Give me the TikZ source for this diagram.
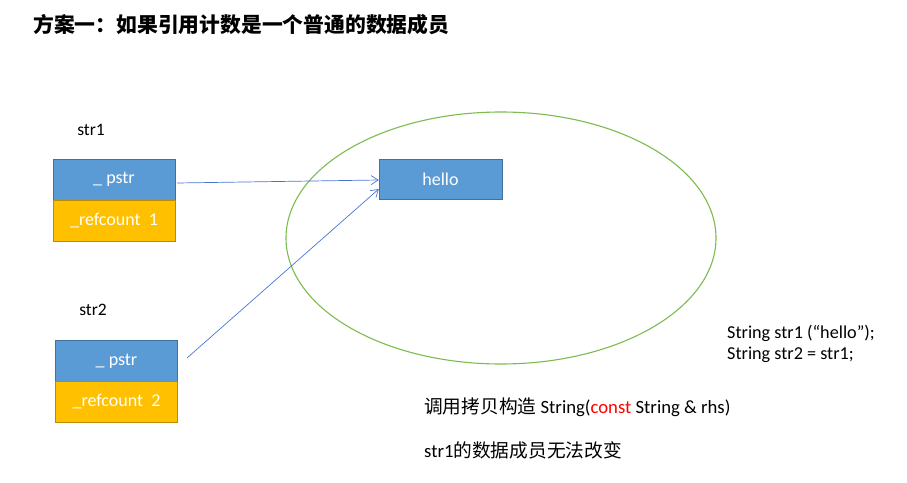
\documentclass[tikz,border=0pt]{standalone}
\usepackage{fontspec}
\setmainfont{Carlito}
\newfontfamily\cjk{Noto Sans CJK SC}
\usetikzlibrary{arrows.meta,shapes.geometric}
\definecolor{boxblue}{HTML}{5B9BD5}
\definecolor{boxblueline}{HTML}{41719C}
\definecolor{boxyellow}{HTML}{FFC000}
\definecolor{boxyellowline}{HTML}{BC8C00}
\definecolor{arrowblue}{HTML}{4A74D4}
\definecolor{ellgreen}{HTML}{7CBB4E}
\tikzset{
  pbox/.style={draw=boxblueline, fill=boxblue, minimum width=122pt, minimum height=41pt, inner sep=0pt, text=white, font=\fontsize{18}{20}\selectfont},
  rbox/.style={draw=boxyellowline, fill=boxyellow, minimum width=122pt, minimum height=41pt, inner sep=0pt, text=white, font=\fontsize{18}{20}\selectfont},
  lbl/.style={inner sep=0pt, font=\fontsize{17.5}{20}\selectfont},
  ptr/.style={draw=arrowblue, line width=0.7pt, -{Straight Barb[length=7pt,width=9pt]}},
}
\begin{document}
\begin{tikzpicture}[x=1pt,y=-1pt]
\useasboundingbox (0,0) rectangle (907,482);
\node[anchor=west, inner sep=0pt, font=\cjk\bfseries\fontsize{20.8}{24}\selectfont] (title) at (33,25) {方案一：如果引用计数是一个普通的数据成员};
\node[lbl] (l1) at (91,130) {str1};
\node[pbox] (p1) at (114,179.5) {\_ pstr};
\node[rbox] (r1) at (114,220.5) {\_refcount\ \ 1};
\node[lbl] (l2) at (93,310) {str2};
\node[pbox] (p2) at (116.5,361) {\_ pstr};
\node[rbox] (r2) at (116.5,402) {\_refcount\ \ 2};
\node[draw=ellgreen, line width=1.1pt, ellipse, minimum width=430pt, minimum height=252pt, inner sep=0pt] (ell) at (501,238) {};
\node[pbox, draw=boxblueline, minimum width=123pt, minimum height=40pt] (hello) at (440.5,179) {hello};
\coordinate (s1) at (177,183);
\coordinate (s2) at (187,358);
\draw[ptr] (s1) -- ([yshift=-1pt]hello.west);
\draw[ptr] (s2) -- ([yshift=-10pt]hello.west);
\node[anchor=west, inner sep=0pt, font=\fontsize{18.2}{21}\selectfont, align=left] (code) at (727,343.5) {String str1 (“hello”);\\String str2 = str1;};
\node[anchor=west, inner sep=0pt, font=\fontsize{18.7}{21}\selectfont] (copy) at (424,407) {{\cjk 调用拷贝构造} String({\color{red}const} String \& rhs)};
\node[anchor=west, inner sep=0pt, font=\fontsize{18.7}{21}\selectfont] (note) at (424,450) {str1{\cjk 的数据成员无法改变}};
\end{tikzpicture}
\end{document}
